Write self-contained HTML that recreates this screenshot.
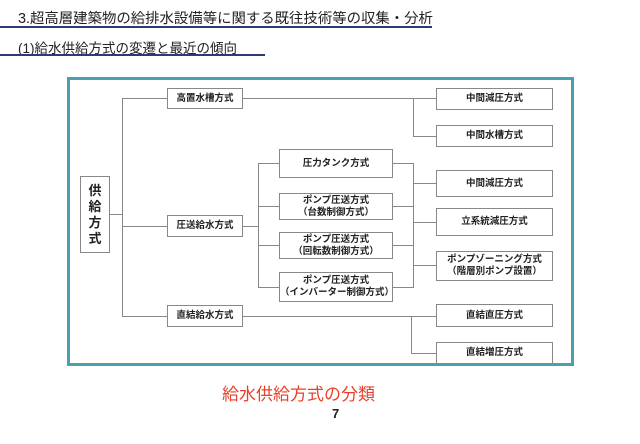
<!DOCTYPE html>
<html><head><meta charset="utf-8"><style>
body{margin:0;width:640px;height:444px;background:#fff;position:relative;overflow:hidden;font-family:"Liberation Sans","Noto Sans CJK JP",sans-serif;}
.t{position:absolute;color:#222;white-space:nowrap}
.b{position:absolute;border:1.5px solid #888;background:#fff;box-sizing:border-box;display:flex;align-items:center;justify-content:center;text-align:center;font-size:9.5px;line-height:12px;color:#222;font-weight:bold}
.h{position:absolute;height:1px;background:#888}
.v{position:absolute;width:1px;background:#888}
</style></head><body>
<div class="t" style="left:18px;top:7px;font-size:14.4px">3.超高層建築物の給排水設備等に関する既往技術等の収集・分析</div>
<div style="position:absolute;left:0;top:26px;width:432px;height:2px;background:#2c3a7a"></div>
<div class="t" style="left:18px;top:37px;font-size:13.5px">(1)給水供給方式の変遷と最近の傾向</div>
<div style="position:absolute;left:0;top:54px;width:265px;height:2px;background:#2c3a7a"></div>
<div style="position:absolute;left:67px;top:77px;width:507px;height:289px;border:3px solid #4a9fb0;box-sizing:border-box"></div>

<div class="h" style="left:110px;top:214px;width:12px"></div>
<div class="v" style="left:122px;top:98px;height:219px"></div>
<div class="h" style="left:122px;top:98px;width:45px"></div>
<div class="h" style="left:122px;top:226px;width:45px"></div>
<div class="h" style="left:122px;top:316px;width:45px"></div>
<div class="h" style="left:243px;top:98px;width:193px"></div>
<div class="v" style="left:413px;top:98px;height:38px"></div>
<div class="h" style="left:413px;top:136px;width:23px"></div>
<div class="h" style="left:243px;top:226px;width:15px"></div>
<div class="v" style="left:258px;top:163px;height:125px"></div>
<div class="h" style="left:258px;top:163px;width:21px"></div>
<div class="h" style="left:258px;top:206px;width:21px"></div>
<div class="h" style="left:258px;top:245px;width:21px"></div>
<div class="h" style="left:258px;top:287px;width:21px"></div>
<div class="h" style="left:393px;top:163px;width:20px"></div>
<div class="h" style="left:393px;top:206px;width:20px"></div>
<div class="h" style="left:393px;top:245px;width:20px"></div>
<div class="h" style="left:393px;top:287px;width:20px"></div>
<div class="v" style="left:413px;top:163px;height:125px"></div>
<div class="h" style="left:413px;top:183px;width:23px"></div>
<div class="h" style="left:413px;top:222px;width:23px"></div>
<div class="h" style="left:413px;top:265px;width:23px"></div>
<div class="h" style="left:243px;top:316px;width:193px"></div>
<div class="v" style="left:411px;top:316px;height:37px"></div>
<div class="h" style="left:411px;top:353px;width:25px"></div>

<div class="b" style="left:80px;top:176px;width:30px;height:77px;font-size:13px;line-height:16px">供<br>給<br>方<br>式</div>
<div class="b" style="left:167px;top:88px;width:76px;height:21px">高置水槽方式</div>
<div class="b" style="left:167px;top:215px;width:76px;height:22px">圧送給水方式</div>
<div class="b" style="left:167px;top:305px;width:76px;height:22px">直結給水方式</div>
<div class="b" style="left:279px;top:149px;width:114px;height:29px">圧力タンク方式</div>
<div class="b" style="left:279px;top:193px;width:114px;height:27px">ポンプ圧送方式<br>（台数制御方式）</div>
<div class="b" style="left:279px;top:232px;width:114px;height:27px">ポンプ圧送方式<br>（回転数制御方式）</div>
<div class="b" style="left:279px;top:272px;width:114px;height:30px">ポンプ圧送方式<br>（インバーター制御方式）</div>
<div class="b" style="left:436px;top:88px;width:117px;height:22px">中間減圧方式</div>
<div class="b" style="left:436px;top:125px;width:117px;height:22px">中間水槽方式</div>
<div class="b" style="left:436px;top:170px;width:117px;height:27px">中間減圧方式</div>
<div class="b" style="left:436px;top:208px;width:117px;height:28px">立系統減圧方式</div>
<div class="b" style="left:436px;top:251px;width:117px;height:30px">ポンプゾーニング方式<br>（階層別ポンプ設置）</div>
<div class="b" style="left:436px;top:304px;width:117px;height:23px">直結直圧方式</div>
<div class="b" style="left:436px;top:342px;width:117px;height:22px">直結増圧方式</div>

<div class="t" style="left:222px;top:380px;font-size:17px;color:#e8402a">給水供給方式の分類</div>
<div class="t" style="left:332px;top:406px;font-size:13px;font-weight:bold">7</div>
</body></html>
